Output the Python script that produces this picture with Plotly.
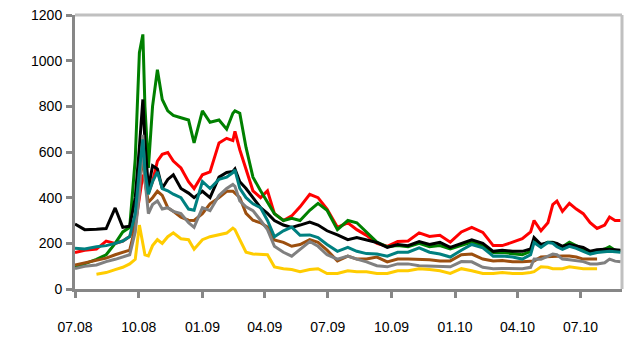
import plotly.graph_objects as go

dates = [
    "2008-07-01", "2008-07-15", "2008-08-01", "2008-08-15", "2008-08-28", "2008-09-08",
    "2008-09-18", "2008-09-26", "2008-10-02", "2008-10-07", "2008-10-10", "2008-10-15",
    "2008-10-21", "2008-10-28", "2008-11-04", "2008-11-12", "2008-11-20", "2008-12-01",
    "2008-12-12", "2008-12-20", "2009-01-01", "2009-01-12", "2009-01-25", "2009-02-05",
    "2009-02-14", "2009-02-17", "2009-02-24", "2009-03-05", "2009-03-15", "2009-03-26",
    "2009-04-05", "2009-04-15", "2009-04-28", "2009-05-10", "2009-05-22", "2009-06-05",
    "2009-06-17", "2009-06-30", "2009-07-15", "2009-07-30", "2009-08-12", "2009-08-26",
    "2009-09-10", "2009-09-25", "2009-10-10", "2009-10-25", "2009-11-10", "2009-11-25",
    "2009-12-10", "2009-12-25", "2010-01-10", "2010-01-25", "2010-02-10", "2010-02-25",
    "2010-03-10", "2010-03-25", "2010-04-08", "2010-04-20", "2010-04-25", "2010-05-05",
    "2010-05-15", "2010-05-22", "2010-05-28", "2010-06-05", "2010-06-15", "2010-06-25",
    "2010-07-05", "2010-07-15", "2010-07-25", "2010-08-05", "2010-08-12", "2010-08-20",
    "2010-08-28",
]

red = [
    160, 170, 175, 210, 200, 210, 230, 280, 400, 500, 480, 420,
    470, 560, 590, 598, 560, 530, 470, 440, 500, 513, 640, 660,
    650, 690, 610, 520, 430, 400, 430, 330, 300, 320, 360, 415,
    400, 350, 270, 290, 260, 235, 200, 187, 208, 210, 246, 230,
    235, 205, 250, 270, 248, 190, 190, 205, 220, 250, 300, 255,
    290, 370, 385, 340, 375, 350, 330, 290, 265, 280, 315, 300,
    300,
]

green = [
    95, 110, 130, 150, 200, 250, 270, 570, 1035, 1115, 800, 530,
    800, 960, 830, 780, 760, 750, 740, 640, 780, 730, 740, 700,
    770, 780, 770, 620, 490, 430, 380, 330, 300, 310, 300, 345,
    375, 345, 260, 300, 290, 250, 205, 185, 190, 185, 200, 185,
    190, 175, 190, 205, 190, 160, 160, 155, 150, 165, 210, 190,
    205, 205, 195, 185, 205, 190, 175, 160, 165, 175, 185, 170,
    168,
]

black = [
    285, 260, 262, 265, 355, 270, 275, 400, 620, 830, 650, 440,
    540, 526, 441, 480, 500, 440, 420, 400, 428, 400, 490, 510,
    515, 526, 470, 440, 400, 356, 331, 300, 280, 270, 280, 293,
    280, 255, 237, 216, 225, 216, 204, 182, 195, 190, 208, 195,
    204, 182, 200, 215, 200, 165, 170, 165, 165, 175, 225, 195,
    204, 204, 200, 187, 195, 190, 182, 165, 172, 174, 174, 172,
    170,
]

brown = [
    105, 115, 125, 135, 150, 160, 170, 270, 450, 600, 470, 380,
    400, 428, 410, 356, 340, 314, 301, 300, 330, 373, 400, 428,
    428, 420, 400, 331, 301, 290, 271, 215, 204, 187, 195, 216,
    204, 170, 123, 144, 131, 131, 140, 119, 131, 131, 131, 128,
    123, 123, 150, 153, 131, 123, 125, 119, 119, 120, 123, 140,
    142, 144, 144, 144, 144, 140, 131, 131, 131, None, None, None,
    None,
]

gray = [
    90, 100, 105, 120, 130, 140, 150, 250, 420, 675, 480, 330,
    370, 386, 350, 356, 340, 330, 290, 270, 356, 343, 410, 440,
    458, 450, 386, 360, 343, 301, 260, 187, 161, 144, 174, 208,
    187, 150, 131, 144, 131, 119, 102, 97, 110, 110, 102, 100,
    97, 97, 120, 119, 95, 89, 90, 89, 89, 95, 131, 130,
    145, 153, 150, 131, 128, 123, 120, 110, 110, 115, 131, 122,
    119,
]

teal = [
    178, 175, 185, 190, 200, 210, 230, 330, 520, 655, 520, 415,
    470, 513, 440, 430, 415, 400, 350, 345, 471, 440, 480, 490,
    510, 522, 441, 400, 373, 356, 300, 229, 255, 271, 235, 237,
    225, 195, 165, 182, 165, 155, 153, 144, 161, 161, 180, 161,
    153, 140, 170, 195, 180, 144, 145, 140, 131, 150, 204, 182,
    204, 200, 185, 174, 187, 178, 165, 153, 160, 165, 165, 163,
    161,
]

yellow = [
    None, None, 65, 72, 85, 95, 110, 130, 280, 200, 150, 145,
    190, 216, 200, 229, 246, 220, 216, 174, 216, 229, 237, 245,
    267, 260, 216, 161, 153, 153, 150, 97, 89, 85, 76, 85,
    89, 68, 68, 80, 76, 76, 68, 68, 80, 80, 89, 85,
    80, 68, 89, 80, 68, 68, 72, 68, 68, 72, 76, 97,
    95, 89, 89, 89, 97, 92, 89, 89, 89, None, None, None,
    None,
]

series = [
    ("red", red, "#ff0000"),
    ("green", green, "#008000"),
    ("black", black, "#000000"),
    ("brown", brown, "#9c4f0f"),
    ("gray", gray, "#808080"),
    ("teal", teal, "#008080"),
    ("yellow", yellow, "#ffcc00"),
]

fig = go.Figure()
for name, vals, color in series:
    fig.add_trace(go.Scatter(
        x=dates, y=vals, name=name, mode="lines",
        line=dict(color=color, width=3), connectgaps=False,
        hoverinfo="skip",
    ))

axis_color = "#878787"
font = dict(family="Liberation Sans, Arial, sans-serif", size=13, color="#000000")

fig.update_layout(
    width=629, height=342,
    margin=dict(l=75, r=7, t=8, b=51),
    paper_bgcolor="white", plot_bgcolor="white",
    showlegend=False,
    font=font,
)
fig.update_xaxes(
    type="date", range=["2008-07-01", "2010-08-30"],
    tick0="2008-07-01", dtick="M3", tickformat="%m.%y",
    tickfont=dict(size=14),
    showgrid=False, zeroline=False,
    showline=True, linecolor=axis_color, linewidth=3,
    ticks="outside", ticklen=6, tickwidth=3, tickcolor=axis_color,
    ticklabelstandoff=17,
)
fig.update_yaxes(
    range=[0, 1200], dtick=200,
    tickfont=dict(size=14),
    showgrid=False, zeroline=False,
    showline=True, linecolor=axis_color, linewidth=3,
    ticks="outside", ticklen=6, tickwidth=3, tickcolor=axis_color,
    ticklabelstandoff=1, ticklabeloverflow="allow",
)
# light border on top and right of the plot area
fig.add_shape(type="line", xref="paper", yref="paper", x0=0, x1=1, y0=1, y1=1,
              line=dict(color="#c0c0c0", width=3))
fig.add_shape(type="line", xref="paper", yref="paper", x0=1, x1=1, y0=0, y1=1,
              line=dict(color="#c0c0c0", width=3))

# drop the default page margin so the figure sits at the window origin
fig.write_html("out.html", config={"displayModeBar": False},
               post_script="document.body.style.margin = '0';")
